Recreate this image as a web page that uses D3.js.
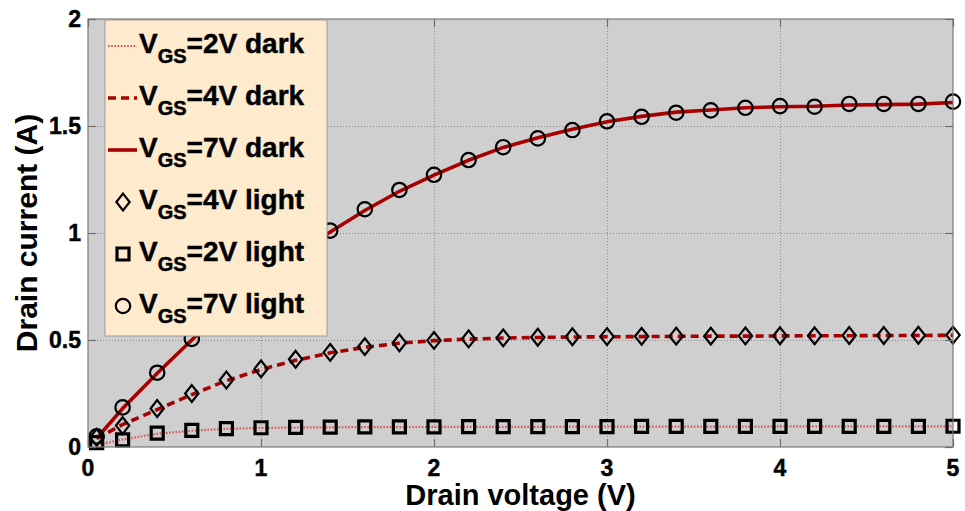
<!DOCTYPE html>
<html>
<head>
<meta charset="utf-8">
<script src="https://cdn.jsdelivr.net/npm/d3@7"></script>
<style>
  html, body { margin: 0; padding: 0; background: #ffffff; }
  svg { display: block; font-family: Arial, "Liberation Sans", Helvetica, sans-serif; }
  .heavy { stroke: #000; stroke-width: 0.45px; paint-order: stroke; }
</style>
</head>
<body>
<svg id="chart" width="965" height="511"></svg>
<script>
// Drain voltage sweep (V)
const vds = [0.05, 0.2, 0.4, 0.6, 0.8, 1.0, 1.2, 1.4, 1.6, 1.8, 2.0, 2.2, 2.4, 2.6,
             2.8, 3.0, 3.2, 3.4, 3.6, 3.8, 4.0, 4.2, 4.4, 4.6, 4.8, 5.0];

// Drain current (A), dark condition
const id2Dark = [0.010, 0.035, 0.062, 0.076, 0.085, 0.089, 0.091, 0.092, 0.093, 0.093, 0.094, 0.094, 0.094,
                 0.094, 0.095, 0.095, 0.095, 0.095, 0.095, 0.095, 0.096, 0.096, 0.096, 0.096, 0.096, 0.096];
const id4Dark = [0.040, 0.105, 0.175, 0.245, 0.310, 0.362, 0.405, 0.440, 0.466, 0.485, 0.497, 0.504, 0.509,
                 0.512, 0.514, 0.515, 0.516, 0.517, 0.518, 0.518, 0.519, 0.520, 0.520, 0.521, 0.521, 0.522];
const id7Dark = [0.040, 0.180, 0.345, 0.500, 0.655, 0.790, 0.905, 1.005, 1.105, 1.195, 1.270, 1.340, 1.400,
                 1.445, 1.485, 1.520, 1.545, 1.565, 1.575, 1.585, 1.590, 1.592, 1.598, 1.600, 1.602, 1.610];

// Drain current (A), light condition
const id4Light = [0.045, 0.100, 0.180, 0.250, 0.313, 0.365, 0.410, 0.442, 0.469, 0.487, 0.498, 0.505, 0.510,
                  0.513, 0.515, 0.516, 0.517, 0.518, 0.518, 0.519, 0.520, 0.520, 0.521, 0.521, 0.522, 0.523];
const id2Light = [0.020, 0.033, 0.065, 0.078, 0.086, 0.090, 0.092, 0.093, 0.094, 0.094, 0.094, 0.095, 0.095,
                  0.095, 0.095, 0.095, 0.096, 0.096, 0.096, 0.096, 0.096, 0.096, 0.096, 0.096, 0.096, 0.097];
const id7Light = [0.050, 0.185, 0.347, 0.505, 0.660, 0.790, 0.905, 1.011, 1.111, 1.201, 1.272, 1.341, 1.401,
                  1.442, 1.481, 1.522, 1.543, 1.562, 1.573, 1.585, 1.593, 1.590, 1.603, 1.603, 1.603, 1.614];

// Axis ticks
const xTicks = [0, 1, 2, 3, 4, 5];
const yTicks = [0, 0.5, 1, 1.5, 2];
const yTickLabels = ["0", "0.5", "1", "1.5", "2"];

// Legend entries
const legendGates = ["2V", "4V", "7V", "4V", "2V", "7V"];
const legendConds = ["dark", "dark", "dark", "light", "light", "light"];

const svg = d3.select("#chart");
const W = 965, H = 511;
const margin = { top: 19, right: 12, bottom: 64, left: 88 };
const iw = W - margin.left - margin.right;
const ih = H - margin.top - margin.bottom;

const x = d3.scaleLinear().domain([0, 5]).range([0, iw]);
const y = d3.scaleLinear().domain([0, 2]).range([ih, 0]);

const g = svg.append("g").attr("transform", `translate(${margin.left},${margin.top})`);

// plot background
g.append("rect").attr("width", iw).attr("height", ih).attr("fill", "#cfcfcf");

// dotted grid
const gridX = g.append("g")
  .call(d3.axisBottom(x).tickValues(xTicks.slice(1, -1)).tickSize(ih).tickFormat(""));
gridX.select(".domain").remove();
gridX.selectAll("line").attr("stroke", "#8e8e8e").attr("stroke-width", 1).attr("stroke-dasharray", "1,2");

const gridY = g.append("g")
  .call(d3.axisLeft(y).tickValues(yTicks.slice(1, -1)).tickSize(-iw).tickFormat(""));
gridY.select(".domain").remove();
gridY.selectAll("line").attr("stroke", "#8e8e8e").attr("stroke-width", 1).attr("stroke-dasharray", "1,2");

// clipped curves
svg.append("defs").append("clipPath").attr("id", "plotClip")
  .append("rect").attr("width", iw).attr("height", ih);

const line = d3.line().x(d => x(d[0])).y(d => y(d[1]));
const pairs = arr => vds.map((v, i) => [v, arr[i]]);

const curves = g.append("g").attr("clip-path", "url(#plotClip)");
const darkStyles = [
  { data: id2Dark, color: "#d9575a", width: 2.2, dash: "1.6,1.6" },
  { data: id4Dark, color: "#a80000", width: 3.6, dash: "8,5" },
  { data: id7Dark, color: "#a80000", width: 3.6, dash: null }
];
darkStyles.forEach(s => {
  curves.append("path")
    .datum(pairs(s.data))
    .attr("d", line)
    .attr("fill", "none")
    .attr("stroke", s.color)
    .attr("stroke-width", s.width)
    .attr("stroke-dasharray", s.dash);
});

// marker outlines
const diamond = (r) => `M0,${-r * 1.2}L${r * 0.95},0L0,${r * 1.2}L${-r * 0.95},0Z`;
const square = (r) => `M${-r},${-r}H${r}V${r}H${-r}Z`;
const circle = (r) => `M${r},0A${r},${r},0,1,1,${-r},0A${r},${r},0,1,1,${r},0Z`;

function drawMarkers(arr, shapePath, sw) {
  g.append("g").selectAll("path")
    .data(pairs(arr))
    .join("path")
    .attr("transform", d => `translate(${x(d[0])},${y(d[1])})`)
    .attr("d", shapePath)
    .attr("fill", "none")
    .attr("stroke", "#000")
    .attr("stroke-width", sw);
}
drawMarkers(id4Light, diamond(7), 2.2);
drawMarkers(id2Light, square(6), 3.2);
drawMarkers(id7Light, circle(7.2), 2.2);

// axis frame
g.append("rect").attr("width", iw).attr("height", ih)
  .attr("fill", "none").attr("stroke", "#7a7a7a").attr("stroke-width", 1.2);

// inward ticks on all four sides
const tickLen = 8;
const tickStyle = sel => sel.attr("stroke", "#6e6e6e").attr("stroke-width", 1.2);
const bottomAx = g.append("g").attr("transform", `translate(0,${ih})`)
  .call(d3.axisBottom(x).tickValues(xTicks).tickSizeInner(-tickLen).tickSizeOuter(0).tickFormat(""));
const topAx = g.append("g")
  .call(d3.axisTop(x).tickValues(xTicks).tickSizeInner(-tickLen).tickSizeOuter(0).tickFormat(""));
const leftAx = g.append("g")
  .call(d3.axisLeft(y).tickValues(yTicks).tickSizeInner(-tickLen).tickSizeOuter(0).tickFormat(""));
const rightAx = g.append("g").attr("transform", `translate(${iw},0)`)
  .call(d3.axisRight(y).tickValues(yTicks).tickSizeInner(-tickLen).tickSizeOuter(0).tickFormat(""));
[bottomAx, topAx, leftAx, rightAx].forEach(a => {
  a.select(".domain").remove();
  tickStyle(a.selectAll("line"));
});

// tick labels
g.append("g").selectAll("text")
  .data(xTicks)
  .join("text")
  .attr("class", "heavy")
  .attr("x", d => x(d))
  .attr("y", ih + 29)
  .attr("text-anchor", "middle")
  .attr("font-size", 23)
  .attr("font-weight", "bold")
  .attr("fill", "#000")
  .text(d => d);

g.append("g").selectAll("text")
  .data(yTicks)
  .join("text")
  .attr("class", "heavy")
  .attr("x", -7)
  .attr("y", d => y(d) + 8)
  .attr("text-anchor", "end")
  .attr("font-size", 23)
  .attr("font-weight", "bold")
  .attr("fill", "#000")
  .text((d, i) => yTickLabels[i]);

// axis titles
svg.append("text")
  .attr("x", margin.left + iw / 2)
  .attr("y", 505)
  .attr("text-anchor", "middle")
  .attr("font-size", 29)
  .attr("font-weight", "bold")
  .text("Drain voltage (V)");

svg.append("text")
  .attr("transform", `translate(37,${margin.top + ih / 2}) rotate(-90)`)
  .attr("text-anchor", "middle")
  .attr("font-size", 30)
  .attr("font-weight", "bold")
  .text("Drain current (A)");

// legend
const leg = svg.append("g");
leg.append("rect")
  .attr("x", 105).attr("y", 20)
  .attr("width", 222).attr("height", 316)
  .attr("fill", "#feeacc")
  .attr("stroke", "#9a9a9a")
  .attr("stroke-width", 1);

const rowStep = 52, firstBase = 53;
legendGates.forEach((gate, i) => {
  const base = firstBase + i * rowStep;
  const mid = base - 7;
  if (i < 3) {
    const s = darkStyles[i];
    leg.append("line")
      .attr("x1", 108).attr("x2", 137)
      .attr("y1", mid).attr("y2", mid)
      .attr("stroke", s.color)
      .attr("stroke-width", s.width)
      .attr("stroke-dasharray", s.dash);
  } else {
    const shapes = [diamond(7), square(6), circle(7.2)];
    const sws = [2.2, 3.2, 2.2];
    leg.append("path")
      .attr("transform", `translate(123,${mid})`)
      .attr("d", shapes[i - 3])
      .attr("fill", "none")
      .attr("stroke", "#000")
      .attr("stroke-width", sws[i - 3]);
  }
  const t = leg.append("text")
    .attr("class", "heavy")
    .attr("x", 139).attr("y", base)
    .attr("font-size", 28)
    .attr("font-weight", "bold")
    .attr("fill", "#000");
  t.append("tspan").text("V");
  t.append("tspan").attr("font-size", 20).attr("dy", 10).text("GS");
  t.append("tspan").attr("dy", -10).text(`=${gate} ${legendConds[i]}`);
});
</script>
</body>
</html>
